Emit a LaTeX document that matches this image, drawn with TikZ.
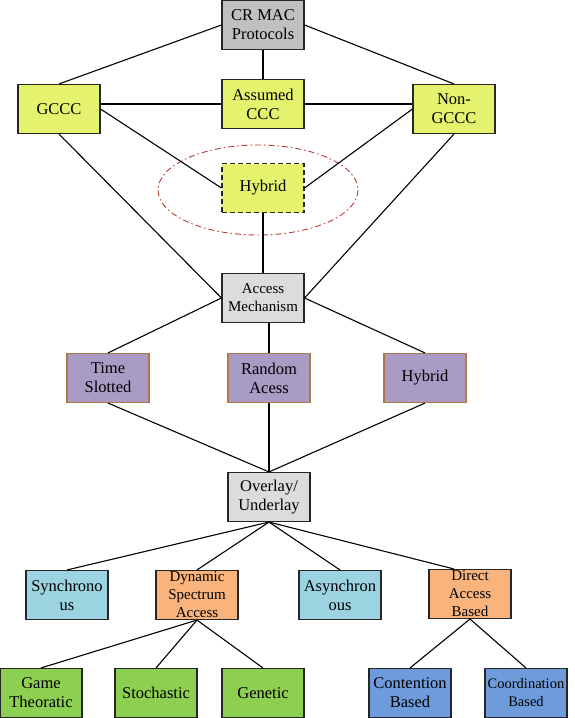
\documentclass[tikz,border=0pt]{standalone}
\usepackage{fontspec}
\setmainfont{Liberation Serif}
\definecolor{ellc}{RGB}{185,60,55}
\definecolor{crgray}{RGB}{192,192,192}
\definecolor{lgray}{RGB}{220,220,220}
\definecolor{ylime}{RGB}{228,242,110}
\definecolor{purpf}{RGB}{168,155,196}
\definecolor{purpd}{RGB}{176,120,70}
\definecolor{cyanf}{RGB}{155,211,224}
\definecolor{orangef}{RGB}{249,180,125}
\definecolor{greenf}{RGB}{141,207,80}
\definecolor{bluef}{RGB}{110,155,219}
\begin{document}
\begin{tikzpicture}[x=1pt,y=-1pt,
  box/.style={draw=black!85, line width=1.1pt, minimum width=82pt, minimum height=49pt, align=center, inner sep=1pt, font=\fontsize{16.5}{19}\selectfont},
  sbox/.style={box, font=\fontsize{15}{18}\selectfont},
  conn/.style={line width=1.1pt, black},
  ygreen/.style={fill=ylime},
  purp/.style={fill=purpf, draw=purpd},
]
\useasboundingbox (0,0) rectangle (574,718);
\fill[white] (0,0) rectangle (574,718);
% ellipse
\draw[ellc, line width=0.9pt, dash pattern=on 6pt off 3pt on 1.5pt off 3pt] (258,190) ellipse [x radius=100, y radius=45];
% connectors (drawn first, under boxes)
\coordinate (crC) at (263,25);
% nodes
\node[box, fill=crgray] (cr) at (263,25) {CR MAC\\Protocols};
\node[box, ygreen] (gccc) at (59,109) {GCCC};
\node[box, ygreen] (ass) at (263,104) {Assumed\\CCC};
\node[box, ygreen] (ngccc) at (454,109) {Non-\\GCCC};
\node[box, ygreen, dash pattern=on 5pt off 3pt] (hyb) at (263,188) {Hybrid};
\node[sbox, fill=lgray] (acc) at (263,298) {Access\\Mechanism};
\node[box, purp] (ts) at (108,378) {Time\\Slotted};
\node[box, purp] (ra) at (269,378) {Random\\Acess};
\node[box, purp] (hy2) at (425,378) {Hybrid};
\node[box, fill=lgray] (ov) at (269,497) {Overlay/\\Underlay};
\node[box, fill=cyanf] (sync) at (67,595) {Synchrono\\us};
\node[sbox, fill=orangef] (dsa) at (197,595) {Dynamic\\Spectrum\\Access};
\node[box, fill=cyanf] (async) at (340,595) {Asynchron\\ous};
\node[sbox, fill=orangef] (dir) at (470,594) {Direct\\Access\\Based};
\node[box, fill=greenf] (game) at (41,693) {Game\\Theoratic};
\node[box, fill=greenf] (sto) at (156,693) {Stochastic};
\node[box, fill=greenf] (gen) at (263,693) {Genetic};
\node[box, fill=bluef] (cont) at (410,693) {Contention\\Based};
\node[box, fill=bluef, font=\fontsize{14.5}{18}\selectfont] (coord) at (526,693) {Coordination\\Based};
% connectors
\draw[conn] (cr.west) -- (gccc.north);
\draw[conn] (cr.east) -- (ngccc.north);
\draw[conn] (cr.south) -- (ass.north);
\draw[conn] (ass.west -| gccc.east) -- (ass.west);
\draw[conn] (ass.east) -- (ass.east -| ngccc.west);
\draw[conn] (gccc.east) -- (hyb.west);
\draw[conn] (ngccc.west) -- (hyb.east);
\draw[conn] (gccc.south) -- (acc.west);
\draw[conn] (hyb.south) -- (acc.north);
\draw[conn] (ngccc.south) -- (acc.east);
\draw[conn] (acc.west) -- (ts.north);
\draw[conn] (acc.south -| ra.north) -- (ra.north);
\draw[conn] (acc.east) -- (hy2.north);
\draw[conn] (ts.south) -- (ov.north);
\draw[conn] (ra.south) -- (ov.north);
\draw[conn] (hy2.south) -- (ov.north);
\draw[conn] (ov.south) -- (sync.north);
\draw[conn] (ov.south) -- (dsa.north);
\draw[conn] (ov.south) -- (async.north);
\draw[conn] (ov.south) -- ([xshift=-16pt]dir.north);
\draw[conn] (dsa.south) -- (game.north);
\draw[conn] (dsa.south) -- (sto.north);
\draw[conn] (dsa.south) -- (gen.north);
\draw[conn] (dir.south) -- (cont.north);
\draw[conn] (dir.south) -- (coord.north);
\end{tikzpicture}
\end{document}
